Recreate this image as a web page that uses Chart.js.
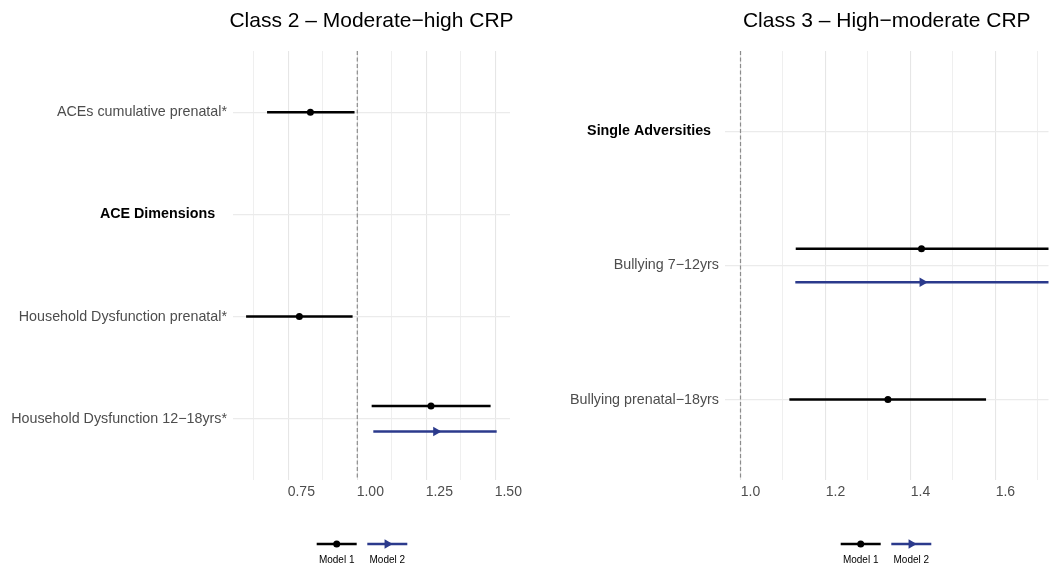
<!DOCTYPE html>
<html>
<head>
<meta charset="utf-8">
<script src="https://cdn.jsdelivr.net/npm/chart.js@4/dist/chart.umd.min.js"></script>
<style>
  html, body { margin: 0; padding: 0; background: #fff; }
  #wrap { position: relative; width: 1054px; height: 573px; }
  .panel { position: absolute; top: 0; height: 573px; }
  #panelIzq { left: 0; width: 540px; }
  #panelDer { left: 540px; width: 514px; }
</style>
</head>
<body>
<div id="wrap">
  <div class="panel" id="panelIzq"><canvas id="graficoIzq" width="540" height="573"></canvas></div>
  <div class="panel" id="panelDer"><canvas id="graficoDer" width="514" height="573"></canvas></div>
</div>
<script>
const modelos = ['Model 1', 'Model 2']
const coloresModelo = ['#000000', '#2B3A8C']

// Class 2 - Moderate-high CRP
const cat2 = ['ACEs cumulative prenatal*', 'ACE Dimensions', 'Household Dysfunction prenatal*', 'Household Dysfunction 12−18yrs*']
const enc2 = [false, true, false, false]
const m1Est2 = [0.83, null, 0.79, 1.267]
const m1Inf2 = [0.673, null, 0.597, 1.052]
const m1Sup2 = [0.99, null, 0.983, 1.483]
const m2Est2 = [null, null, null, 1.285]
const m2Inf2 = [null, null, null, 1.058]
const m2Sup2 = [null, null, null, 1.505]
const ticks2 = [0.75, 1.00, 1.25, 1.50]
const menores2 = [0.625, 0.875, 1.125, 1.375]

// Class 3 - High-moderate CRP
const cat3 = ['Single Adversities', 'Bullying 7−12yrs', 'Bullying prenatal−18yrs']
const enc3 = [true, false, false]
const m1Est3 = [null, 1.426, 1.347]
const m1Inf3 = [null, 1.13, 1.115]
const m1Sup3 = [null, 1.80, 1.578]
const m2Est3 = [null, 1.428, null]
const m2Inf3 = [null, 1.129, null]
const m2Sup3 = [null, 1.80, null]
const ticks3 = [1.0, 1.2, 1.4, 1.6]
const menores3 = [1.1, 1.3, 1.5, 1.7]

const fuente = '"Liberation Sans", Arial, Helvetica, sans-serif'

const tituloPanel = {
    id: 'tituloPanel',
    afterDraw(chart, args, opts) {
        const { ctx, chartArea } = chart
        ctx.save()
        ctx.font = `21px ${fuente}`
        ctx.fillStyle = '#000'
        ctx.textAlign = 'center'
        ctx.textBaseline = 'middle'
        ctx.fillText(opts.texto, (chartArea.left + chartArea.right) / 2, opts.y)
        ctx.restore()
    }
}

const leyendaModelos = {
    id: 'leyendaModelos',
    afterDraw(chart, args, opts) {
        const ctx = chart.ctx
        const largo = 40, sep = 10.6
        let x0 = opts.centro - (modelos.length * largo + (modelos.length - 1) * sep) / 2
        ctx.save()
        modelos.forEach((m, i) => {
            const xc = x0 + largo / 2
            ctx.strokeStyle = coloresModelo[i]
            ctx.fillStyle = coloresModelo[i]
            ctx.lineWidth = 2.5
            ctx.beginPath()
            ctx.moveTo(x0, opts.y)
            ctx.lineTo(x0 + largo, opts.y)
            ctx.stroke()
            ctx.beginPath()
            if (i === 0) {
                ctx.arc(xc, opts.y, 3.5, 0, Math.PI * 2)
            } else {
                const r = 5.5
                ctx.moveTo(xc + r, opts.y)
                ctx.lineTo(xc - r / 2, opts.y - r * 0.866)
                ctx.lineTo(xc - r / 2, opts.y + r * 0.866)
                ctx.closePath()
            }
            ctx.fill()
            ctx.fillStyle = '#000'
            ctx.font = `10px ${fuente}`
            ctx.textAlign = 'center'
            ctx.textBaseline = 'middle'
            ctx.fillText(m, xc, opts.y + 16)
            x0 += largo + sep
        })
        ctx.restore()
    }
}

function armarDatasets(cats, series) {
    const n = cats.length
    const ds = [{
        data: [{ x: 1, y: -0.6 }, { x: 1, y: n - 1 + 0.6 }],
        showLine: true,
        borderColor: '#8C8C8C',
        borderWidth: 1.2,
        borderDash: [4, 2.5],
        pointRadius: 0
    }]
    cats.forEach((c, i) => {
        const presentes = series.filter(s => s.est[i] != null).length
        series.forEach((s, k) => {
            if (s.est[i] == null) return
            const y = presentes > 1 ? i + (k === 0 ? -0.125 : 0.125) : i
            ds.push({
                data: [{ x: s.inf[i], y }, { x: s.sup[i], y }],
                showLine: true,
                borderColor: coloresModelo[k],
                borderWidth: 2.5,
                pointRadius: 0
            })
            ds.push({
                data: [{ x: s.est[i], y }],
                pointStyle: k === 0 ? 'circle' : 'triangle',
                pointRotation: k === 0 ? 0 : 90,
                pointRadius: k === 0 ? 3.5 : 5.5,
                backgroundColor: coloresModelo[k],
                borderColor: coloresModelo[k],
                borderWidth: 0
            })
        })
    })
    return ds
}

function crearPanel(canvasId, cfg) {
    const ctx = document.getElementById(canvasId).getContext('2d')
    const n = cfg.cats.length
    const todos = [...cfg.ticks, ...cfg.menores].sort((a, b) => a - b)
    const esMayor = v => cfg.ticks.some(t => Math.abs(t - v) < 1e-9)

    return new Chart(ctx, {
        type: 'scatter',
        data: { datasets: armarDatasets(cfg.cats, cfg.series) },
        plugins: [tituloPanel, leyendaModelos],
        options: {
            responsive: false,
            devicePixelRatio: 1,
            animation: false,
            events: [],
            layout: { padding: { top: 51, right: cfg.derecha, bottom: 0, left: 0 } },
            plugins: {
                legend: { display: false },
                tooltip: { enabled: false },
                tituloPanel: { texto: cfg.titulo, y: 21 },
                leyendaModelos: { centro: cfg.centroLeyenda, y: 544 }
            },
            scales: {
                x: {
                    type: 'linear',
                    min: cfg.min,
                    max: cfg.max,
                    afterBuildTicks: (scale) => { scale.ticks = todos.map(v => ({ value: v })) },
                    afterFit: (scale) => { scale.height = 93 },
                    border: { display: false },
                    grid: {
                        drawTicks: false,
                        color: (c) => c.tick && esMayor(c.tick.value) ? '#E6E6E6' : '#EDEDED',
                        lineWidth: (c) => c.tick && esMayor(c.tick.value) ? 1.1 : 0.9
                    },
                    ticks: {
                        autoSkip: false,
                        maxRotation: 0,
                        padding: 4,
                        labelOffset: cfg.desfase,
                        color: '#4D4D4D',
                        font: { family: fuente, size: 14 },
                        callback: (v) => esMayor(v) ? v.toFixed(cfg.decimales) : ''
                    }
                },
                y: {
                    type: 'linear',
                    reverse: true,
                    min: -0.6,
                    max: n - 1 + 0.6,
                    afterBuildTicks: (scale) => { scale.ticks = cfg.cats.map((_, i) => ({ value: i })) },
                    afterFit: (scale) => { scale.width = cfg.anchoEje },
                    border: { display: false },
                    grid: { drawTicks: false, color: '#EBEBEB', lineWidth: 1.2 },
                    ticks: {
                        autoSkip: false,
                        padding: 6,
                        color: (c) => c.tick && cfg.enc[c.tick.value] ? '#000000' : '#4D4D4D',
                        font: (c) => ({
                            family: fuente,
                            size: 14.3,
                            weight: c.tick && cfg.enc[c.tick.value] ? 'bold' : 'normal'
                        }),
                        callback: (v) => cfg.enc[v] ? cfg.cats[v] + cfg.sangria : cfg.cats[v]
                    }
                }
            }
        }
    })
}

crearPanel('graficoIzq', {
    titulo: 'Class 2 – Moderate−high CRP',
    cats: cat2, enc: enc2,
    series: [
        { est: m1Est2, inf: m1Inf2, sup: m1Sup2 },
        { est: m2Est2, inf: m2Inf2, sup: m2Sup2 }
    ],
    ticks: ticks2, menores: menores2, decimales: 2,
    min: 0.5496, max: 1.5533,
    anchoEje: 233, derecha: 30, desfase: 13, centroLeyenda: 362, sangria: '   '
})

crearPanel('graficoDer', {
    titulo: 'Class 3 – High−moderate CRP',
    cats: cat3, enc: enc3,
    series: [
        { est: m1Est3, inf: m1Inf3, sup: m1Sup3 },
        { est: m2Est3, inf: m2Inf3, sup: m2Sup3 }
    ],
    ticks: ticks3, menores: menores3, decimales: 1,
    min: 0.9635, max: 1.725,
    anchoEje: 185, derecha: 1.5, desfase: 10, centroLeyenda: 346, sangria: '  '
})
</script>
</body>
</html>
